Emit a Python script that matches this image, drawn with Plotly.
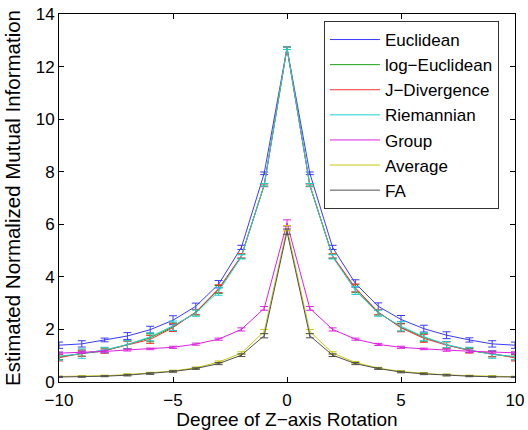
import plotly.graph_objects as go

x = list(range(-10, 11))

euclidean = [1.40, 1.45, 1.60, 1.75, 1.99, 2.35, 2.88, 3.72, 5.12, 7.94, 12.70,
             7.94, 5.12, 3.75, 2.88, 2.38, 2.03, 1.78, 1.60, 1.45, 1.40]
euclidean_err = [0.12, 0.12, 0.07, 0.13, 0.13, 0.17, 0.12, 0.14, 0.08, 0.05, 0.05,
                 0.05, 0.08, 0.14, 0.13, 0.15, 0.13, 0.13, 0.08, 0.12, 0.12]

log_euclidean = [0.95, 1.08, 1.18, 1.42, 1.68, 2.10, 2.65, 3.52, 4.78, 7.50, 12.70,
                 7.50, 4.78, 3.55, 2.65, 2.08, 1.70, 1.42, 1.20, 1.06, 0.94]
log_euclidean_err = [0.10, 0.10, 0.08, 0.15, 0.15, 0.15, 0.10, 0.15, 0.08, 0.05, 0.05,
                     0.05, 0.08, 0.15, 0.10, 0.15, 0.15, 0.12, 0.08, 0.10, 0.10]

j_divergence = [0.92, 1.10, 1.20, 1.40, 1.62, 2.07, 2.66, 3.55, 4.80, 7.48, 12.70,
                7.48, 4.80, 3.58, 2.66, 2.06, 1.66, 1.40, 1.20, 1.08, 0.92]
j_divergence_err = [0.12, 0.12, 0.10, 0.15, 0.15, 0.15, 0.10, 0.15, 0.08, 0.05, 0.05,
                    0.05, 0.08, 0.15, 0.10, 0.15, 0.15, 0.12, 0.10, 0.12, 0.12]

riemannian = [0.98, 1.08, 1.22, 1.42, 1.72, 2.14, 2.62, 3.45, 4.76, 7.50, 12.70,
              7.50, 4.76, 3.48, 2.62, 2.12, 1.72, 1.42, 1.22, 1.05, 0.97]
riemannian_err = [0.15, 0.18, 0.10, 0.15, 0.15, 0.18, 0.12, 0.15, 0.08, 0.05, 0.05,
                  0.05, 0.08, 0.15, 0.12, 0.18, 0.15, 0.12, 0.10, 0.15, 0.12]

group = [1.10, 1.13, 1.16, 1.22, 1.26, 1.32, 1.44, 1.63, 2.00, 2.80, 6.05,
         2.80, 2.00, 1.63, 1.43, 1.32, 1.26, 1.21, 1.17, 1.14, 1.11]
group_err = [0.04, 0.04, 0.05, 0.04, 0.03, 0.04, 0.04, 0.04, 0.06, 0.07, 0.12,
             0.07, 0.06, 0.04, 0.04, 0.04, 0.03, 0.04, 0.05, 0.04, 0.04]

average = [0.21, 0.22, 0.24, 0.28, 0.34, 0.42, 0.54, 0.76, 1.10, 1.92, 5.85,
           1.92, 1.10, 0.74, 0.53, 0.40, 0.33, 0.27, 0.24, 0.22, 0.20]
average_err = [0.02, 0.02, 0.02, 0.03, 0.03, 0.03, 0.03, 0.04, 0.05, 0.08, 0.10,
               0.08, 0.05, 0.04, 0.03, 0.03, 0.03, 0.03, 0.02, 0.02, 0.02]

fa = [0.19, 0.20, 0.22, 0.26, 0.32, 0.40, 0.51, 0.70, 1.02, 1.76, 5.72,
      1.76, 1.02, 0.70, 0.51, 0.38, 0.31, 0.26, 0.22, 0.20, 0.19]
fa_err = [0.02, 0.02, 0.02, 0.03, 0.03, 0.03, 0.03, 0.04, 0.05, 0.08, 0.10,
          0.08, 0.05, 0.04, 0.03, 0.03, 0.03, 0.03, 0.02, 0.02, 0.02]

series_names = ["Euclidean", "log−Euclidean", "J−Divergence", "Riemannian", "Group", "Average", "FA"]
series_values = [euclidean, log_euclidean, j_divergence, riemannian, group, average, fa]
series_errors = [euclidean_err, log_euclidean_err, j_divergence_err, riemannian_err,
                 group_err, average_err, fa_err]
colors = ["#3a3aff", "#1aa01a", "#ff3030", "#20d0d0", "#e020e0", "#c8c810", "#505050"]

fig = go.Figure()
for name, vals, errs, col in zip(series_names, series_values, series_errors, colors):
    fig.add_trace(go.Scatter(
        x=x, y=vals, name=name, mode="lines",
        line=dict(color=col, width=1),
        error_y=dict(type="data", array=errs, visible=True, color=col, thickness=1, width=4),
    ))

font_family = "Liberation Sans, Arial, Helvetica, sans-serif"
fig.update_layout(
    width=528, height=430,
    margin=dict(l=59, r=13, t=14, b=48),
    paper_bgcolor="white", plot_bgcolor="white",
    font=dict(family=font_family, size=17, color="black"),
    showlegend=True,
    legend=dict(
        x=0.581, y=0.981, xanchor="left", yanchor="top",
        bgcolor="white", bordercolor="#333333", borderwidth=1,
        font=dict(family=font_family, size=17, color="black"),
        tracegroupgap=0, itemwidth=50,
    ),
)
fig.update_xaxes(
    range=[-10, 10], tickvals=[-10, -5, 0, 5, 10],
    ticks="inside", ticklen=5, tickcolor="black",
    showline=True, linecolor="black", linewidth=1, mirror="ticks",
    showgrid=False, zeroline=False, automargin=False,
    ticklabelstandoff=3,
    title=dict(text="Degree of Z−axis Rotation", standoff=4, font=dict(size=19)),
    tickfont=dict(size=17),
)
fig.update_yaxes(
    range=[0, 14], tickvals=[0, 2, 4, 6, 8, 10, 12, 14],
    ticks="inside", ticklen=5, tickcolor="black",
    showline=True, linecolor="black", linewidth=1, mirror="ticks",
    showgrid=False, zeroline=False, automargin=False,
    title=dict(text="Estimated Normalized Mutual Information", standoff=9, font=dict(size=20.5)),
    tickfont=dict(size=17),
)

fig.write_html(
    "out.html",
    config={"displayModeBar": False},
    post_script="document.body.style.margin='0';document.body.style.overflow='hidden';",
)
